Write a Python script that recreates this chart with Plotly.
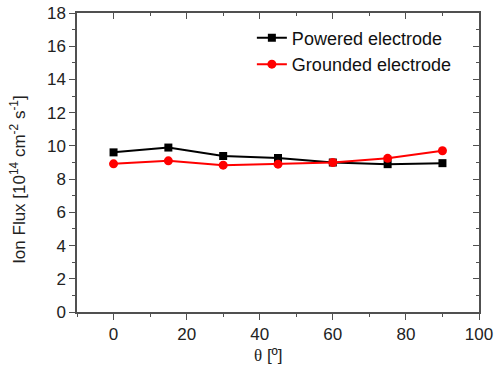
import plotly.graph_objects as go

theta = [0, 15, 30, 45, 60, 75, 90]
powered = [9.61, 9.90, 9.39, 9.27, 9.00, 8.90, 8.96]
grounded = [8.92, 9.10, 8.84, 8.90, 9.00, 9.25, 9.71]

FONT = "Liberation Sans, Arial, sans-serif"
AXC = "#505050"

fig = go.Figure()
fig.add_trace(go.Scatter(x=theta, y=powered, mode="lines+markers", name="Powered electrode",
                         line=dict(color="black", width=2),
                         marker=dict(symbol="square", size=8, color="black")))
fig.add_trace(go.Scatter(x=theta, y=grounded, mode="lines+markers", name="Grounded electrode",
                         line=dict(color="#ff0000", width=2),
                         marker=dict(symbol="circle", size=9, color="#ff0000")))
fig.add_trace(go.Scatter(x=[None], y=[None], xaxis="x2", yaxis="y2", showlegend=False, hoverinfo="skip"))

common = dict(showline=True, linecolor=AXC, linewidth=1.5, showgrid=False, zeroline=False,
              tickcolor=AXC, tickwidth=1.2, automargin=False)
fig.update_layout(
    width=498, height=374,
    margin=dict(l=77, r=19, t=13, b=62, autoexpand=False),
    paper_bgcolor="white", plot_bgcolor="white",
    font=dict(family=FONT, size=17, color="#222"),
    xaxis=dict(range=[-10, 100], dtick=20, tick0=0, ticks="outside", ticklen=6,
               minor=dict(dtick=10, tick0=0, ticks="outside", ticklen=3, tickcolor=AXC),
               tickfont=dict(size=17), **common),
    yaxis=dict(range=[0, 18], dtick=2, ticks="outside", ticklen=6,
               minor=dict(dtick=1, ticks="outside", ticklen=3, tickcolor=AXC),
               tickfont=dict(size=17), **common),
    xaxis2=dict(overlaying="x", side="top", range=[-10, 100], dtick=20, tick0=0, ticks="inside",
                ticklen=6, showticklabels=False,
                minor=dict(dtick=10, tick0=0, ticks="inside", ticklen=3, tickcolor=AXC), **common),
    yaxis2=dict(overlaying="y", side="right", range=[0, 18], dtick=2, ticks="inside",
                ticklen=6, showticklabels=False,
                minor=dict(dtick=1, ticks="inside", ticklen=3, tickcolor=AXC), **common),
    legend=dict(x=0.435, y=0.978, xanchor="left", yanchor="top", bgcolor="rgba(0,0,0,0)",
                font=dict(size=18, color="#111"), tracegroupgap=0, itemwidth=30),
    showlegend=True,
)
fig.add_annotation(text="Ion Flux [10<sup>14</sup> cm<sup>-2</sup> s<sup>-1</sup>]",
                   xref="paper", yref="paper", x=-0.147, y=0.445, textangle=-90,
                   showarrow=False, font=dict(size=17, color="#222"), xanchor="center", yanchor="middle")
fig.add_annotation(text="<span style='font-family:Liberation Serif'>θ</span> [º]",
                   xref="paper", yref="paper", x=0.476, y=-0.145,
                   showarrow=False, font=dict(size=17, color="#222"), xanchor="center", yanchor="middle")
fig.write_html("out.html", config={"displayModeBar": False},
               post_script="document.body.style.margin='0';document.body.style.overflow='hidden';")
